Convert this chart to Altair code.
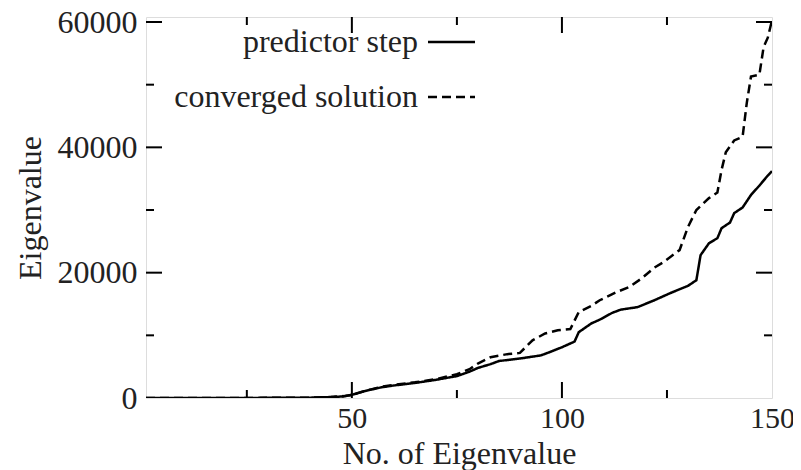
import altair as alt
import pandas as pd

# ---- data ----
pred_x = [1, 20, 40, 45, 48, 50, 53, 57, 60, 65, 70, 75, 78, 80, 83, 85, 90, 95, 97, 100,
          103, 104, 107, 109, 112, 114, 118, 122, 126, 130, 132, 133, 135, 137, 138, 140,
          141, 143, 145, 147, 149, 150]
pred_y = [0, 0, 50, 150, 250, 500, 1100, 1700, 2000, 2400, 2900, 3500, 4200, 4800, 5400,
          5900, 6300, 6800, 7300, 8100, 9000, 10500, 11900, 12500, 13600, 14100, 14500,
          15600, 16800, 17900, 18800, 22800, 24700, 25500, 27100, 28000, 29500, 30400,
          32400, 33900, 35500, 36200]

conv_x = [1, 20, 40, 45, 48, 50, 53, 57, 60, 65, 70, 75, 78, 80, 83, 87, 90, 93, 96, 99,
          102, 104, 107, 109, 113, 116, 119, 122, 124, 128, 130, 132, 135, 137, 138, 139,
          141, 143, 144, 145, 147, 148, 149, 150]
conv_y = [0, 0, 50, 150, 300, 500, 1100, 1800, 2100, 2500, 3000, 3800, 4600, 5500, 6500,
          7000, 7200, 9200, 10300, 10800, 11000, 13700, 14700, 15600, 16900, 17700, 19100,
          20800, 21600, 23600, 27300, 30000, 31900, 32800, 36400, 39200, 41100, 41700,
          47100, 51300, 51600, 56000, 57500, 60300]

series_names = ["predictor step", "converged solution"]

x_major = [50, 100]
x_minor = [25, 75, 125]
y_major = [20000, 40000, 60000]
y_minor = [10000, 30000, 50000]
x_labels = [50, 100, 150]
y_labels = [0, 20000, 40000, 60000]

x_title = "No. of Eigenvalue"
y_title = "Eigenvalue"

# ---- layout / style ----
W, H = 626, 381
FONT = "Liberation Serif"
FS = 32
FS_X = 30
X_DOMAIN = [1, 150]
Y_DOMAIN = [0, 60800]
MAJ, MIN = 16, 8
TXT = "#222222"

df = pd.concat([
    pd.DataFrame({"n": pred_x, "v": pred_y, "s": series_names[0]}),
    pd.DataFrame({"n": conv_x, "v": conv_y, "s": series_names[1]}),
])

xs = alt.Scale(domain=X_DOMAIN, nice=False, zero=False)
ys = alt.Scale(domain=Y_DOMAIN, nice=False)

x_axis = alt.Axis(values=x_labels, format="d", tickSize=0, domain=False, grid=False,
                  labelFont=FONT, labelFontSize=FS_X, labelColor=TXT,
                  labelPadding=5, labelFlush=False, title=x_title, titleFont=FONT,
                  titleFontSize=FS, titleFontWeight="normal", titleColor=TXT,
                  titlePadding=5)
y_axis = alt.Axis(values=y_labels, format="d", tickSize=0, domain=False, grid=False,
                  labelFont=FONT, labelFontSize=FS, labelColor=TXT,
                  labelPadding=9, labelFlush=False, title=y_title, titleFont=FONT,
                  titleFontSize=FS, titleFontWeight="normal", titleColor=TXT,
                  titlePadding=10)

lines = alt.Chart(df).mark_line(color="black", strokeWidth=2.5, clip=True).encode(
    x=alt.X("n:Q", scale=xs, axis=x_axis),
    y=alt.Y("v:Q", scale=ys, axis=y_axis),
    strokeDash=alt.StrokeDash("s:N", scale=alt.Scale(domain=series_names,
                                                     range=[[1, 0], [9, 5]]),
                              legend=None),
    detail="s:N",
)

def xticks(vals, length):
    d = pd.DataFrame({"t": vals})
    b = alt.Chart(d).mark_rule(color="black", strokeWidth=2).encode(
        x=alt.X("t:Q", scale=xs), y=alt.value(H), y2=alt.value(H - length))
    t = alt.Chart(d).mark_rule(color="black", strokeWidth=2).encode(
        x=alt.X("t:Q", scale=xs), y=alt.value(0), y2=alt.value(length))
    return [b, t]

def yticks(vals, length):
    d = pd.DataFrame({"t": vals})
    l = alt.Chart(d).mark_rule(color="black", strokeWidth=2).encode(
        y=alt.Y("t:Q", scale=ys), x=alt.value(0), x2=alt.value(length))
    r = alt.Chart(d).mark_rule(color="black", strokeWidth=2).encode(
        y=alt.Y("t:Q", scale=ys), x=alt.value(W), x2=alt.value(W - length))
    return [l, r]

LEG_Y1, LEG_Y2 = 25, 80
leg_text1 = alt.Chart(pd.DataFrame({"s": [series_names[0]]})).mark_text(
    align="right", baseline="middle", font=FONT, fontSize=FS, color=TXT).encode(
    text="s:N", x=alt.value(272), y=alt.value(LEG_Y1))
leg_text2 = alt.Chart(pd.DataFrame({"s": [series_names[1]]})).mark_text(
    align="right", baseline="middle", font=FONT, fontSize=FS, color=TXT).encode(
    text="s:N", x=alt.value(272), y=alt.value(LEG_Y2))
leg_line1 = alt.Chart(pd.DataFrame({"s": [series_names[0]]})).mark_rule(
    color="black", strokeWidth=2.5).encode(
    x=alt.value(282), x2=alt.value(329), y=alt.value(LEG_Y1))
leg_line2 = alt.Chart(pd.DataFrame({"s": [series_names[1]]})).mark_rule(
    color="black", strokeWidth=2.5, strokeDash=[9, 5]).encode(
    x=alt.value(282), x2=alt.value(329), y=alt.value(LEG_Y2))

layers = [lines] + xticks(x_major, MAJ) + xticks(x_minor, MIN) + \
    yticks(y_major, MAJ) + yticks(y_minor, MIN) + \
    [leg_text1, leg_text2, leg_line1, leg_line2]

chart = alt.layer(*layers).properties(
    width=W, height=H,
    autosize=alt.AutoSizeParams(type="none"),
    padding={"left": 138, "top": 9, "right": 21, "bottom": 74},
).configure_view(stroke="black", strokeWidth=2.5).configure(background="white")

chart.save("out.html", embed_options={"renderer": "svg", "actions": False})
